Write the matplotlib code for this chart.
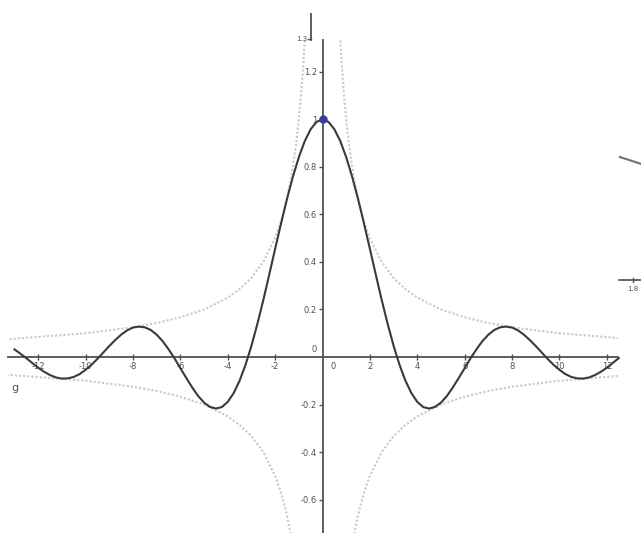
import numpy as np
import matplotlib.pyplot as plt

# g(x) = sin(x)/x, values every 0.25 from -13 to 12.5
g_x = np.arange(-13.0, 12.51, 0.25)
g_y = [0.032, 0.014, -0.005, -0.025, -0.045, -0.062, -0.076, -0.086, -0.091,
       -0.090, -0.084, -0.072, -0.054, -0.033, -0.008, 0.019, 0.046, 0.071,
       0.094, 0.112, 0.124, 0.128, 0.125, 0.114, 0.094, 0.067, 0.033, -0.005,
       -0.047, -0.088, -0.128, -0.164, -0.192, -0.210, -0.217, -0.211, -0.189,
       -0.152, -0.100, -0.033, 0.047, 0.139, 0.239, 0.346, 0.455, 0.562, 0.665,
       0.759, 0.841, 0.909, 0.959, 0.990,
       1.0,
       0.990, 0.959, 0.909, 0.841, 0.759, 0.665, 0.562, 0.455, 0.346, 0.239,
       0.139, 0.047, -0.033, -0.100, -0.152, -0.189, -0.211, -0.217, -0.210,
       -0.192, -0.164, -0.128, -0.088, -0.047, -0.005, 0.033, 0.067, 0.094,
       0.114, 0.125, 0.128, 0.124, 0.112, 0.094, 0.071, 0.046, 0.019, -0.008,
       -0.033, -0.054, -0.072, -0.084, -0.090, -0.091, -0.086, -0.076, -0.062,
       -0.045, -0.025, -0.005]

# envelope 1/|x| (dotted), right half and left half
env_x = [0.75, 0.8, 0.9, 1.0, 1.1, 1.25, 1.35, 1.5, 1.6, 1.8, 2.0, 2.5, 3.0, 3.5,
         4.0, 5.0, 6.0, 7.0, 8.0, 10.0, 12.47]
env_y = [1.333, 1.25, 1.111, 1.0, 0.909, 0.8, 0.741, 0.667, 0.625, 0.556, 0.5,
         0.4, 0.333, 0.286, 0.25, 0.2, 0.167, 0.143, 0.125, 0.1, 0.08]
env_x_left = [0.75, 0.8, 0.9, 1.0, 1.1, 1.25, 1.35, 1.5, 1.6, 1.8, 2.0, 2.5, 3.0,
              3.5, 4.0, 5.0, 6.0, 7.0, 8.0, 10.0, 13.27]
env_y_left = [1.333, 1.25, 1.111, 1.0, 0.909, 0.8, 0.741, 0.667, 0.625, 0.556,
              0.5, 0.4, 0.333, 0.286, 0.25, 0.2, 0.167, 0.143, 0.125, 0.1, 0.075]

xticks = [-12, -10, -8, -6, -4, -2, 2, 4, 6, 8, 10, 12]
yticks = [-0.6, -0.4, -0.2, 0.2, 0.4, 0.6, 0.8, 1, 1.2]

fig = plt.figure(figsize=(6.41, 5.33), dpi=100)
ax = fig.add_axes([0, 0, 1, 1])
ax.set_xlim(-13.61, 13.44)
ax.set_ylim(-0.741, 1.503)

axcol = '#505050'
envcol = '#c8c8c8'

# envelopes
ex = np.array(env_x)
ey = np.array(env_y)
exl = np.array(env_x_left)
eyl = np.array(env_y_left)
for xs, ys in [(ex, ey), (ex, -ey), (-exl, eyl), (-exl, -eyl)]:
    ax.plot(xs, ys, color=envcol, lw=1.5, ls=(0, (1, 1)), zorder=1)

# the curve
ax.plot(g_x, g_y, color='#3a3a3a', lw=1.5, zorder=3)
ax.plot([0], [1], 'o', color='#3a3aa0', ms=5, zorder=4)

# axes through the origin
for s in ['top', 'right']:
    ax.spines[s].set_visible(False)
ax.spines['bottom'].set_position(('data', 0))
ax.spines['left'].set_position(('data', 0))
ax.spines['bottom'].set_bounds(-13.27, 12.47)
ax.spines['left'].set_bounds(-0.741, 1.335)
for s in ['bottom', 'left']:
    ax.spines[s].set_color(axcol)
    ax.spines[s].set_linewidth(1.3)
    ax.spines[s].set_zorder(2)

ax.set_xticks(xticks)
ax.set_xticklabels([str(t) for t in xticks])
ax.set_yticks(yticks)
ax.set_yticklabels([('%g' % t) for t in yticks])
ax.tick_params(axis='x', direction='inout', length=5, width=1, colors=axcol,
               labelsize=6, pad=1)
ax.tick_params(axis='y', direction='out', length=3, width=1, colors=axcol,
               labelsize=6, pad=1)

ax.text(-0.25, 0.03, '0', fontsize=6, color=axcol, ha='right', va='center')
ax.text(0.35, -0.02, '0', fontsize=6, color=axcol, ha='left', va='top')
ax.text(-13.0, -0.13, 'g', fontsize=8, color='#555555', ha='center', va='center')

# leftover pieces of the screenshot
ax.plot([-0.485, -0.485], [1.335, 1.444], color=axcol, lw=1.3)
ax.plot([-0.6, -0.485], [1.34, 1.34], color=axcol, lw=1)
ax.text(-0.65, 1.34, '1.3', fontsize=5, color=axcol, ha='right', va='center')
ax.plot([12.55, 13.44], [0.842, 0.813], color='#707070', lw=1.5)
ax.plot([12.51, 13.44], [0.324, 0.324], color=axcol, lw=1.2)
ax.plot([13.1, 13.1], [0.314, 0.334], color=axcol, lw=1)
ax.text(13.1, 0.30, '1.8', fontsize=5, color=axcol, ha='center', va='top')

fig.savefig('out.png', dpi=100)
